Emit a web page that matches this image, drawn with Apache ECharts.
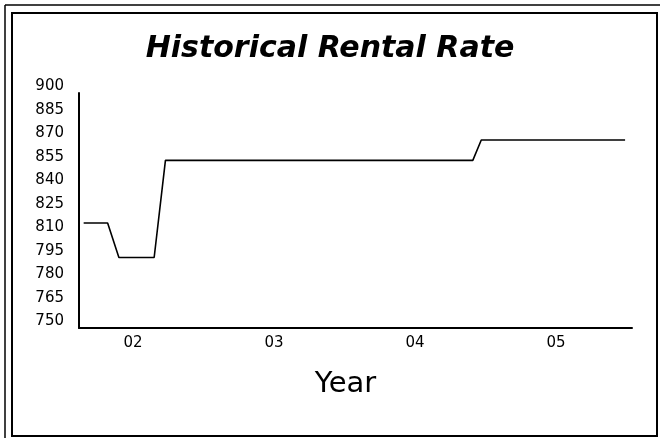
<!DOCTYPE html>
<html>
<head>
<meta charset="utf-8">
<script src="https://cdn.jsdelivr.net/npm/echarts@6/dist/echarts.min.js"></script>
<style>
html,body{margin:0;padding:0;background:#fff;}
#chart{width:660px;height:438px;}
</style>
</head>
<body>
<div id="chart"></div>
<script>
// Data (x = year as decimal, y = monthly rental rate)
const years = [2001.65, 2001.82, 2001.90, 2002.15, 2002.23, 2004.41, 2004.47, 2005.49];
const rates = [817, 817, 795, 795, 857, 857, 870, 870];
const xTickValues = [2002, 2003, 2004, 2005];
const xTickLabels = ['02', '03', '04', '05'];
const titleText = 'Historical Rental Rate';
const xAxisName = 'Year';

const seriesData = years.map((y, i) => [y, rates[i]]);

const chart = echarts.init(document.getElementById('chart'), null, {renderer: 'canvas'});
chart.setOption({
  backgroundColor: '#fff',
  animation: false,
  title: {
    text: titleText,
    left: 'center',
    top: 29,
    textStyle: {
      fontFamily: 'DejaVu Sans',
      fontSize: 30,
      fontWeight: 'bold',
      fontStyle: 'italic',
      color: '#000'
    }
  },
  grid: {left: 79, right: 28, top: 93, bottom: 110, containLabel: false},
  xAxis: {
    type: 'value',
    min: 2001.617,
    max: 2005.539,
    name: xAxisName,
    nameLocation: 'middle',
    nameGap: 42,
    nameTextStyle: {
      fontFamily: 'DejaVu Sans',
      fontSize: 29,
      color: '#000',
      padding: [0, 20, 0, 0]
    },
    axisLine: {show: true, onZero: false, lineStyle: {color: '#000', width: 2}},
    axisTick: {show: false},
    splitLine: {show: false},
    axisLabel: {
      customValues: xTickValues,
      formatter: v => xTickLabels[xTickValues.indexOf(Math.round(v))] || '',
      fontFamily: 'DejaVu Sans',
      fontSize: 15,
      color: '#000',
      margin: 8
    }
  },
  yAxis: {
    type: 'value',
    min: 750,
    max: 900,
    interval: 15,
    axisLine: {show: true, lineStyle: {color: '#000', width: 2}},
    axisTick: {show: false},
    splitLine: {show: false},
    axisLabel: {
      fontFamily: 'DejaVu Sans',
      fontSize: 15,
      color: '#000',
      margin: 15,
      verticalAlign: 'bottom',
      lineHeight: 13
    }
  },
  series: [{
    type: 'line',
    data: seriesData,
    showSymbol: false,
    symbol: 'none',
    lineStyle: {color: '#000', width: 1.6},
    z: 3
  }],
  graphic: [
    {type: 'rect', shape: {x: 12, y: 13, width: 645, height: 423}, style: {fill: 'none', stroke: '#000', lineWidth: 2}, silent: true},
    {type: 'line', shape: {x1: 5, y1: 5, x2: 5, y2: 438}, style: {stroke: '#000', lineWidth: 1.5}, silent: true},
    {type: 'line', shape: {x1: 5, y1: 5, x2: 660, y2: 5}, style: {stroke: '#000', lineWidth: 1.5}, silent: true}
  ]
});
</script>
</body>
</html>
